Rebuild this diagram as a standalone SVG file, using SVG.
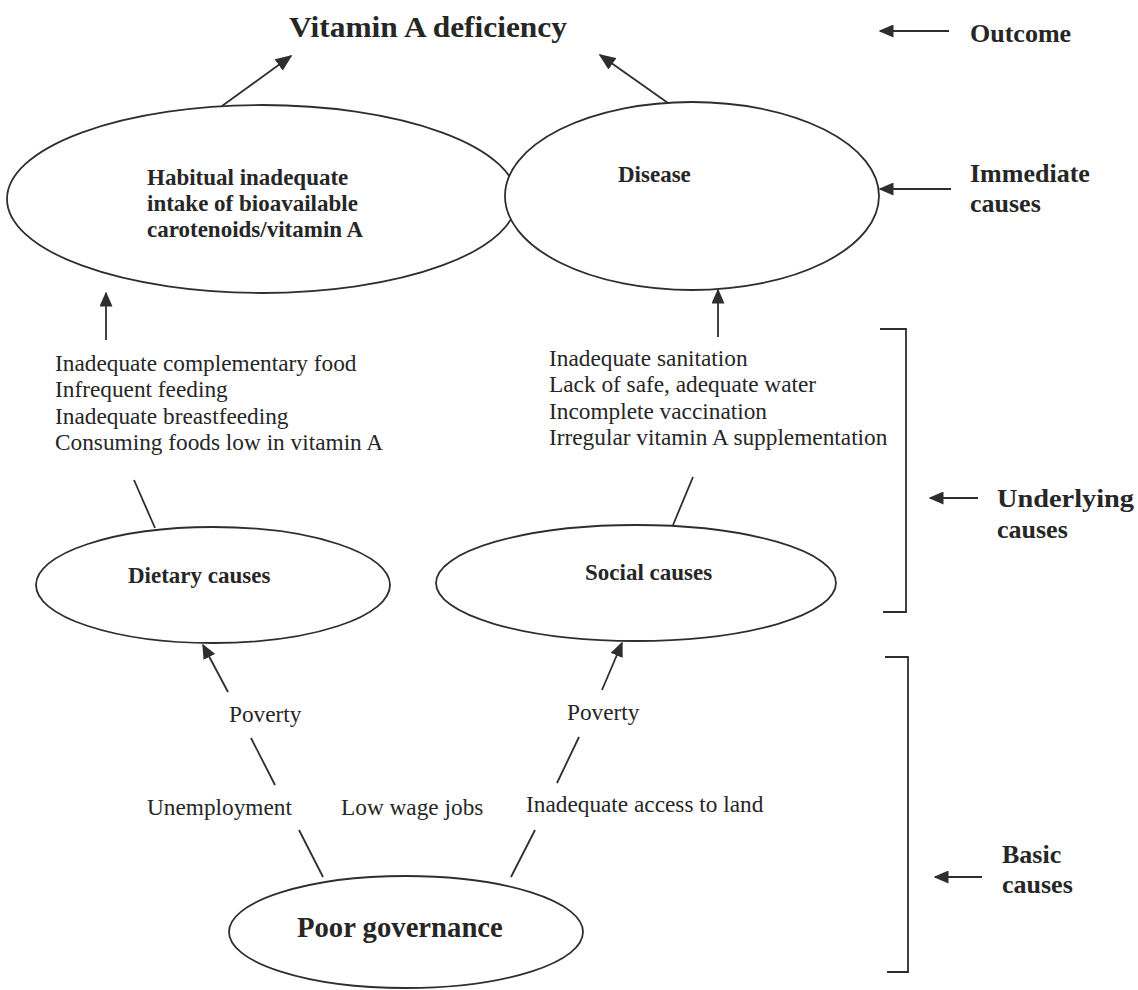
<svg xmlns="http://www.w3.org/2000/svg" width="1138" height="990" viewBox="0 0 1138 990">
<defs>
<style>
.t{font-family:"Liberation Serif","Times New Roman",serif;fill:#262626}
.r{font-size:23.3px}
.b{font-weight:bold;font-size:23px}
.lab{font-weight:bold;font-size:26px}
.e{fill:#fff;stroke:#2e2e2e;stroke-width:1.8}
.c{stroke:#2e2e2e;stroke-width:1.8;fill:none}
</style>
<marker id="ah" viewBox="0 0 10 10" refX="9" refY="5" markerWidth="15" markerHeight="13" markerUnits="userSpaceOnUse" orient="auto" preserveAspectRatio="none">
<path d="M0,0 L10,5 L0,10 z" fill="#2e2e2e"/>
</marker>
<marker id="ahL" viewBox="0 0 10 10" refX="9" refY="5" markerWidth="17" markerHeight="14" markerUnits="userSpaceOnUse" orient="auto" preserveAspectRatio="none">
<path d="M0,0 L10,5 L0,10 z" fill="#2e2e2e"/>
</marker>
</defs>
<rect width="1138" height="990" fill="#fff"/>

<g id="title">
<text class="t" x="289" y="37" font-size="30" font-weight="bold" textLength="278" lengthAdjust="spacingAndGlyphs">Vitamin A deficiency</text>
</g>

<g id="habitual">
<ellipse class="e" cx="262" cy="199" rx="255" ry="94"/>
<text class="t b" x="147" y="185">Habitual inadequate</text>
<text class="t b" x="147" y="211">intake of bioavailable</text>
<text class="t b" x="147" y="237">carotenoids/vitamin A</text>
</g>

<g id="disease">
<ellipse class="e" cx="692" cy="196" rx="187" ry="94"/>
<text class="t b" x="618" y="182">Disease</text>
</g>

<g id="dietary-factors">
<text class="t r" x="55" y="371">Inadequate complementary food</text>
<text class="t r" x="55" y="397">Infrequent feeding</text>
<text class="t r" x="55" y="424">Inadequate breastfeeding</text>
<text class="t r" x="55" y="450">Consuming foods low in vitamin A</text>
</g>

<g id="social-factors">
<text class="t r" x="549" y="366">Inadequate sanitation</text>
<text class="t r" x="549" y="392">Lack of safe, adequate water</text>
<text class="t r" x="549" y="419">Incomplete vaccination</text>
<text class="t r" x="549" y="445">Irregular vitamin A supplementation</text>
</g>

<g id="dietary">
<ellipse class="e" cx="213" cy="585" rx="177" ry="58"/>
<text class="t b" x="128" y="583">Dietary causes</text>
</g>

<g id="social">
<ellipse class="e" cx="636" cy="583" rx="200" ry="58"/>
<text class="t b" x="585" y="580">Social causes</text>
</g>

<g id="poverty-left">
<text class="t r" x="229" y="722">Poverty</text>
</g>
<g id="poverty-right">
<text class="t r" x="567" y="720">Poverty</text>
</g>
<g id="unemployment">
<text class="t r" x="147" y="815">Unemployment</text>
</g>
<g id="low-wage">
<text class="t r" x="341" y="815">Low wage jobs</text>
</g>
<g id="land">
<text class="t r" x="526" y="812">Inadequate access to land</text>
</g>

<g id="governance">
<ellipse class="e" cx="406" cy="932" rx="177" ry="56"/>
<text class="t" x="297" y="937" font-size="28.7" font-weight="bold">Poor governance</text>
</g>

<g id="level-labels">
<text class="t lab" x="970" y="42">Outcome</text>
<text class="t lab" x="970" y="182">Immediate</text>
<text class="t lab" x="970" y="212">causes</text>
<text class="t lab" x="997" y="507" textLength="137" lengthAdjust="spacingAndGlyphs">Underlying</text>
<text class="t lab" x="997" y="538">causes</text>
<text class="t lab" x="1002" y="863">Basic</text>
<text class="t lab" x="1002" y="893">causes</text>
</g>

<g id="connectors">
<line class="c" x1="222" y1="106" x2="291" y2="56" marker-end="url(#ahL)"/>
<line class="c" x1="668" y1="103" x2="600" y2="55" marker-end="url(#ahL)"/>
<line class="c" x1="106" y1="340" x2="106" y2="293" marker-end="url(#ah)"/>
<line class="c" x1="718" y1="337" x2="718" y2="290" marker-end="url(#ah)"/>
<line class="c" x1="134" y1="480" x2="155" y2="528"/>
<line class="c" x1="693" y1="477" x2="673" y2="525"/>
<line class="c" x1="228" y1="692" x2="203" y2="645" marker-end="url(#ah)"/>
<line class="c" x1="602" y1="690" x2="622" y2="643" marker-end="url(#ah)"/>
<line class="c" x1="251" y1="738" x2="275" y2="785"/>
<line class="c" x1="579" y1="737" x2="557" y2="783"/>
<line class="c" x1="299" y1="830" x2="323" y2="877"/>
<line class="c" x1="535" y1="830" x2="511" y2="877"/>
<line class="c" x1="949" y1="31" x2="880" y2="31" marker-end="url(#ah)"/>
<line class="c" x1="951" y1="189" x2="880" y2="189" marker-end="url(#ah)"/>
<line class="c" x1="978" y1="498" x2="930" y2="498" marker-end="url(#ah)"/>
<line class="c" x1="982" y1="877" x2="935" y2="877" marker-end="url(#ah)"/>
<path class="c" d="M880,329 H906 V612 H883"/>
<path class="c" d="M885,657 H908 V972 H887"/>
</g>
</svg>
